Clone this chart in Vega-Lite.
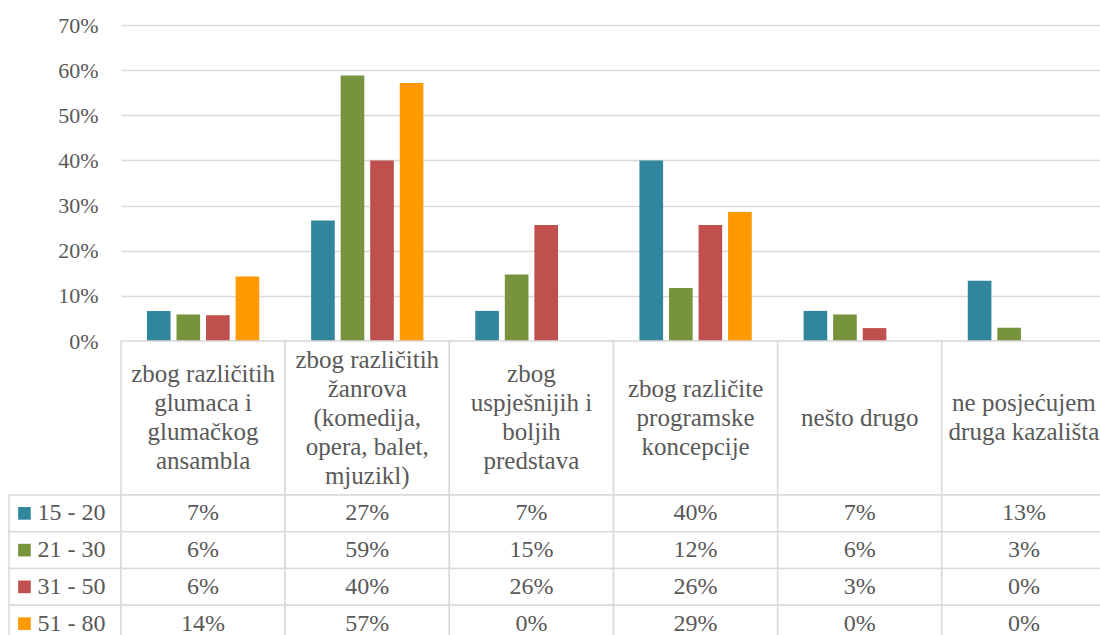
{
  "$schema": "https://vega.github.io/schema/vega-lite/v6.json",
  "background": "white",
  "padding": {"left": 8, "top": 14, "right": 0, "bottom": 0},
  "columns": 2,
  "spacing": 0,
  "bounds": "flush",
  "config": {
    "view": {"stroke": null},
    "font": "Liberation Serif",
    "axis": {"gridColor": "#d9d9d9", "gridWidth": 1.5, "labelColor": "#595959", "labelFont": "Liberation Serif"},
    "text": {"color": "#595959", "font": "Liberation Serif"}
  },
  "datasets": {
    "vals": [
      {"cat": "zbog različitih glumaca i glumačkog ansambla", "age": "15 - 20", "value": 0.0667},
      {"cat": "zbog različitih žanrova (komedija, opera, balet, mjuzikl)", "age": "15 - 20", "value": 0.2667},
      {"cat": "zbog uspješnijih i boljih predstava", "age": "15 - 20", "value": 0.0667},
      {"cat": "zbog različite programske koncepcije", "age": "15 - 20", "value": 0.4},
      {"cat": "nešto drugo", "age": "15 - 20", "value": 0.0667},
      {"cat": "ne posjećujem druga kazališta", "age": "15 - 20", "value": 0.1333},
      {"cat": "zbog različitih glumaca i glumačkog ansambla", "age": "21 - 30", "value": 0.0588},
      {"cat": "zbog različitih žanrova (komedija, opera, balet, mjuzikl)", "age": "21 - 30", "value": 0.5882},
      {"cat": "zbog uspješnijih i boljih predstava", "age": "21 - 30", "value": 0.1471},
      {"cat": "zbog različite programske koncepcije", "age": "21 - 30", "value": 0.1176},
      {"cat": "nešto drugo", "age": "21 - 30", "value": 0.0588},
      {"cat": "ne posjećujem druga kazališta", "age": "21 - 30", "value": 0.0294},
      {"cat": "zbog različitih glumaca i glumačkog ansambla", "age": "31 - 50", "value": 0.0571},
      {"cat": "zbog različitih žanrova (komedija, opera, balet, mjuzikl)", "age": "31 - 50", "value": 0.4},
      {"cat": "zbog uspješnijih i boljih predstava", "age": "31 - 50", "value": 0.2571},
      {"cat": "zbog različite programske koncepcije", "age": "31 - 50", "value": 0.2571},
      {"cat": "nešto drugo", "age": "31 - 50", "value": 0.0286},
      {"cat": "ne posjećujem druga kazališta", "age": "31 - 50", "value": 0},
      {"cat": "zbog različitih glumaca i glumačkog ansambla", "age": "51 - 80", "value": 0.1429},
      {"cat": "zbog različitih žanrova (komedija, opera, balet, mjuzikl)", "age": "51 - 80", "value": 0.5714},
      {"cat": "zbog uspješnijih i boljih predstava", "age": "51 - 80", "value": 0},
      {"cat": "zbog različite programske koncepcije", "age": "51 - 80", "value": 0.2857},
      {"cat": "nešto drugo", "age": "51 - 80", "value": 0},
      {"cat": "ne posjećujem druga kazališta", "age": "51 - 80", "value": 0}
    ],
    "hdr": [
      {"cat": "zbog različitih glumaca i glumačkog ansambla", "label": "zbog različitih\nglumaca i\nglumačkog\nansambla"},
      {"cat": "zbog različitih žanrova (komedija, opera, balet, mjuzikl)", "label": "zbog različitih\nžanrova\n(komedija,\nopera, balet,\nmjuzikl)"},
      {"cat": "zbog uspješnijih i boljih predstava", "label": "zbog\nuspješnijih i\nboljih\npredstava"},
      {"cat": "zbog različite programske koncepcije", "label": "zbog različite\nprogramske\nkoncepcije"},
      {"cat": "nešto drugo", "label": "nešto drugo"},
      {"cat": "ne posjećujem druga kazališta", "label": "ne posjećujem\ndruga kazališta"}
    ],
    "ages": [
      {"age": "15 - 20"},
      {"age": "21 - 30"},
      {"age": "31 - 50"},
      {"age": "51 - 80"}
    ],
    "empty": []
  },
  "concat": [
    {
      "width": 112, "height": 316,
      "data": {"name": "empty"},
      "mark": "point",
      "encoding": {}
    },
    {
      "width": 985, "height": 316,
      "data": {"name": "vals"},
      "mark": {"type": "bar"},
      "encoding": {
        "x": {
          "field": "cat", "type": "nominal",
          "scale": {"domain": ["zbog različitih glumaca i glumačkog ansambla", "zbog različitih žanrova (komedija, opera, balet, mjuzikl)", "zbog uspješnijih i boljih predstava", "zbog različite programske koncepcije", "nešto drugo", "ne posjećujem druga kazališta"], "paddingInner": 0.28, "paddingOuter": 0.14},
          "axis": null
        },
        "xOffset": {
          "field": "age", "type": "nominal",
          "scale": {"domain": ["15 - 20", "21 - 30", "31 - 50", "51 - 80"], "paddingInner": 0.2, "paddingOuter": 0.1}
        },
        "y": {
          "field": "value", "type": "quantitative",
          "scale": {"domain": [0, 0.7], "nice": false},
          "axis": {"values": [0, 0.1, 0.2, 0.3, 0.4, 0.5, 0.6, 0.7], "format": ".0%", "grid": true, "domain": false, "ticks": false, "tickSize": 0, "labelPadding": 23, "labelFontSize": 22, "title": null}
        },
        "color": {
          "field": "age", "type": "nominal",
          "scale": {"domain": ["15 - 20", "21 - 30", "31 - 50", "51 - 80"], "range": ["#31859C", "#77933C", "#C0504D", "#FF9900"]},
          "legend": null
        }
      }
    },
    {
      "width": 112, "height": 154,
      "data": {"name": "empty"},
      "mark": "point",
      "encoding": {}
    },
    {
      "width": 985, "height": 154,
      "data": {"name": "hdr"},
      "transform": [{"calculate": "length(split(datum.label, '\\n'))", "as": "lines"}],
      "encoding": {
        "x": {
          "field": "cat", "type": "nominal",
          "scale": {"domain": ["zbog različitih glumaca i glumačkog ansambla", "zbog različitih žanrova (komedija, opera, balet, mjuzikl)", "zbog uspješnijih i boljih predstava", "zbog različite programske koncepcije", "nešto drugo", "ne posjećujem druga kazališta"], "paddingInner": 0, "paddingOuter": 0},
          "axis": null
        }
      },
      "layer": [
        {
          "mark": {"type": "rect", "fill": "white", "stroke": "#d9d9d9", "strokeWidth": 1.5}
        },
        {
          "mark": {"type": "text", "fontSize": 25, "lineHeight": 29, "lineBreak": "\n", "baseline": "middle", "align": "center"},
          "encoding": {
            "y": {"field": "lines", "type": "quantitative", "scale": {"domain": [-4.31, 6.31], "nice": false, "zero": false}, "axis": null},
            "text": {"field": "label", "type": "nominal"}
          }
        }
      ]
    },
    {
      "width": 112, "height": 147,
      "data": {"name": "ages"},
      "encoding": {
        "y": {
          "field": "age", "type": "nominal",
          "scale": {"domain": ["15 - 20", "21 - 30", "31 - 50", "51 - 80"], "paddingInner": 0, "paddingOuter": 0},
          "axis": null
        }
      },
      "layer": [
        {
          "mark": {"type": "rect", "fill": "white", "stroke": "#d9d9d9", "strokeWidth": 1.5}
        },
        {
          "mark": {"type": "square", "filled": true, "size": 160, "opacity": 1},
          "encoding": {
            "x": {"datum": "sw", "type": "nominal", "scale": {"type": "point", "domain": ["sw"], "padding": 1, "align": 0.138}, "axis": null},
            "color": {
              "field": "age", "type": "nominal",
              "scale": {"domain": ["15 - 20", "21 - 30", "31 - 50", "51 - 80"], "range": ["#31859C", "#77933C", "#C0504D", "#FF9900"]},
              "legend": null
            }
          }
        }
      ]
    },
    {
      "width": 985, "height": 147,
      "data": {"name": "vals"},
      "encoding": {
        "x": {
          "field": "cat", "type": "nominal",
          "scale": {"domain": ["zbog različitih glumaca i glumačkog ansambla", "zbog različitih žanrova (komedija, opera, balet, mjuzikl)", "zbog uspješnijih i boljih predstava", "zbog različite programske koncepcije", "nešto drugo", "ne posjećujem druga kazališta"], "paddingInner": 0, "paddingOuter": 0},
          "axis": null
        },
        "y": {
          "field": "age", "type": "nominal",
          "scale": {"domain": ["15 - 20", "21 - 30", "31 - 50", "51 - 80"], "paddingInner": 0, "paddingOuter": 0},
          "axis": {"labels": true, "labelAlign": "left", "labelBaseline": "middle", "labelPadding": 84, "labelFontSize": 24, "labelColor": "#595959", "ticks": false, "tickSize": 0, "domain": false, "grid": false, "title": null}
        }
      },
      "layer": [
        {
          "mark": {"type": "rect", "fill": "white", "stroke": "#d9d9d9", "strokeWidth": 1.5}
        },
        {
          "mark": {"type": "text", "fontSize": 24, "baseline": "middle", "align": "center"},
          "encoding": {
            "text": {"field": "value", "type": "quantitative", "format": ".0%"}
          }
        }
      ]
    }
  ]
}
